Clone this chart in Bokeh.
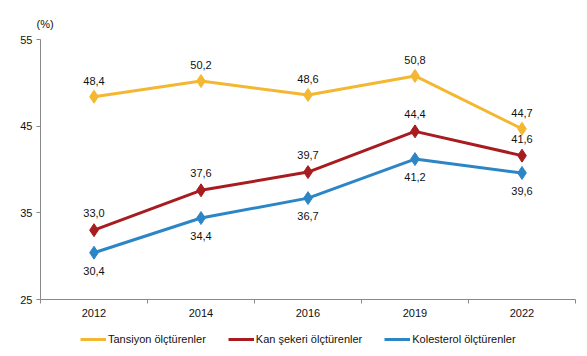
from bokeh.plotting import figure
from bokeh.models import (ColumnDataSource, FixedTicker, Range1d, Legend, LegendItem)
from bokeh.layouts import column
from bokeh.embed import file_html
from bokeh.resources import INLINE
from bokeh.core.properties import value

years = ["2012", "2014", "2016", "2019", "2022"]
tansiyon = [48.4, 50.2, 48.6, 50.8, 44.7]
kan_sekeri = [33.0, 37.6, 39.7, 44.4, 41.6]
kolesterol = [30.4, 34.4, 36.7, 41.2, 39.6]
series_names = ["Tansiyon ölçtürenler", "Kan şekeri ölçtürenler", "Kolesterol ölçtürenler"]
colors = ["#F4B731", "#A81C20", "#2C86C6"]
y_ticks = [25, 35, 45, 55]

FONT = "Liberation Sans"
xs = [i + 0.5 for i in range(len(years))]
all_series = [tansiyon, kan_sekeri, kolesterol]

p = figure(width=583, height=327, output_backend="svg", toolbar_location=None,
           x_range=Range1d(0, len(years)), y_range=Range1d(25, 55),
           min_border_left=40, min_border_top=39, min_border_right=8, min_border_bottom=28)
p.outline_line_color = None
p.xgrid.visible = False
p.ygrid.visible = False
p.background_fill_color = "white"
p.border_fill_color = "white"

p.title.text = "(%)"
p.title.text_font = FONT
p.title.text_font_size = "11px"
p.title.text_font_style = "normal"
p.title.text_color = "#111111"
p.title.align = "left"
p.title.offset = -4
p.title.standoff = 19

p.xaxis.ticker = FixedTicker(ticks=xs, minor_ticks=list(range(len(years) + 1)))
p.xaxis.major_label_overrides = {x: y for x, y in zip(xs, years)}
p.xaxis.major_tick_out = 0
p.xaxis.major_tick_in = 0
p.xaxis.minor_tick_out = 4
p.xaxis.minor_tick_in = 0
p.xaxis.axis_line_color = "#898989"
p.xaxis.minor_tick_line_color = "#898989"
p.xaxis.major_label_standoff = 5
p.xaxis.major_label_text_font = FONT
p.xaxis.major_label_text_font_size = "11px"
p.xaxis.major_label_text_color = "#111111"

p.yaxis.ticker = FixedTicker(ticks=y_ticks, minor_ticks=[])
p.yaxis.major_tick_out = 4
p.yaxis.major_tick_in = 0
p.yaxis.axis_line_color = "#898989"
p.yaxis.major_tick_line_color = "#898989"
p.yaxis.major_label_standoff = 4
p.yaxis.major_label_text_font = FONT
p.yaxis.major_label_text_font_size = "11px"
p.yaxis.major_label_text_color = "#111111"

label_offsets = [-16, -17, 18]
for vals, col, off in zip(all_series, colors, label_offsets):
    src = ColumnDataSource(dict(x=xs, y=vals, lab=[f"{v:.1f}".replace(".", ",") for v in vals]))
    p.line("x", "y", source=src, line_color=col, line_width=3)
    p.scatter("x", "y", source=src, marker="diamond", size=13, fill_color=col, line_color=col)
    p.text("x", "y", text="lab", source=src, y_offset=off, text_align="center",
           text_baseline="middle", text_font=value(FONT), text_font_size="11px",
           text_color="#111111")

# legend strip below the chart (its series lie outside its view, only the key shows)
lg = figure(width=583, height=22, output_backend="svg", toolbar_location=None,
            x_axis_type=None, y_axis_type=None, x_range=Range1d(0, 1), y_range=Range1d(0, 1),
            min_border_left=0, min_border_right=0, min_border_top=0, min_border_bottom=0)
lg.outline_line_color = None
lg.xgrid.visible = False
lg.ygrid.visible = False
items = []
for name, col, vals in zip(series_names, colors, all_series):
    r = lg.line(x=xs, y=vals, line_color=col, line_width=3)
    items.append(LegendItem(label=name, renderers=[r]))
legend = Legend(items=items, orientation="horizontal", location=(40, 4),
                label_text_font=FONT, label_text_font_size="11px", label_text_color="#111111",
                glyph_width=26, glyph_height=12, label_standoff=2, spacing=22,
                border_line_color=None, background_fill_alpha=0, padding=0, margin=0,
                label_height=12)
lg.add_layout(legend)

layout = column(p, lg, spacing=0)
open("out.html", "w").write(file_html(layout, INLINE))
